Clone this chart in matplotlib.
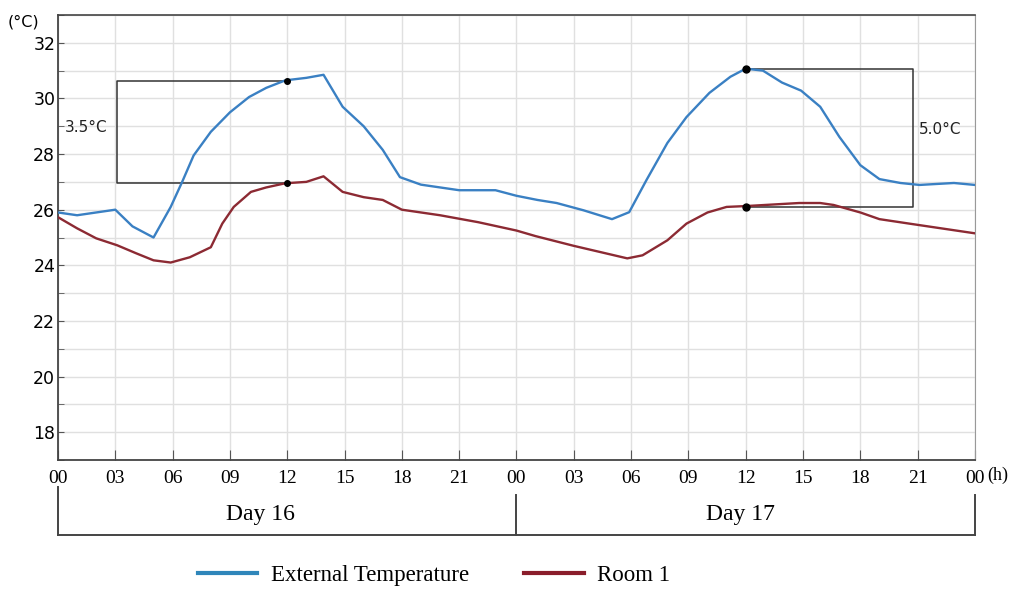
import matplotlib.pyplot as plt
from matplotlib.transforms import blended_transform_factory
from matplotlib.lines import Line2D

# Hours since 00:00 of Day 16, and readings in degC
ext_hours = [0, 1, 2, 3, 3.9, 5, 5.9, 6.5, 7.1, 8, 9, 10, 10.9, 11.9, 13, 13.9, 14.9,
             16, 17, 17.9, 19, 21, 22.9, 24, 25.1, 26.1, 27.5, 29, 29.9, 30.8, 31.9,
             32.9, 34.1, 35.2, 36, 36.9, 37.9, 38.9, 39.9, 40.9, 42, 43, 44.1, 45.1,
             46.9, 48]
ext_temp = [25.9, 25.8, 25.9, 26.0, 25.4, 25.0, 26.1, 27.0, 27.95, 28.8, 29.5, 30.05,
            30.38, 30.65, 30.74, 30.85, 29.7, 29.0, 28.15, 27.17, 26.9, 26.7, 26.7,
            26.5, 26.35, 26.24, 25.98, 25.66, 25.91, 27.06, 28.4, 29.33, 30.2, 30.78,
            31.07, 31.0, 30.57, 30.28, 29.7, 28.62, 27.6, 27.1, 26.96, 26.89, 26.96,
            26.89]

room_hours = [0, 1, 2, 3.1, 4.1, 5, 5.9, 6.9, 8, 8.6, 9.2, 10.1, 10.9, 11.9, 13, 13.9,
              14.9, 16, 17, 18, 20, 22, 24, 25, 27, 29.8, 30.6, 31.9, 32.9, 34, 35,
              36, 38.8, 39.9, 40.6, 42, 43, 44.75, 48]
room_temp = [25.73, 25.33, 24.97, 24.72, 24.43, 24.18, 24.1, 24.29, 24.65, 25.5, 26.1,
             26.64, 26.8, 26.95, 27.0, 27.2, 26.64, 26.45, 26.35, 26.0, 25.8, 25.55,
             25.25, 25.05, 24.7, 24.25, 24.36, 24.9, 25.5, 25.9, 26.1, 26.13, 26.24,
             26.24, 26.17, 25.9, 25.66, 25.48, 25.15]

tick_hours = list(range(0, 49, 3))
tick_labels = ['00', '03', '06', '09', '12', '15', '18', '21'] * 2 + ['00']
y_ticks = [18, 20, 22, 24, 26, 28, 30, 32]

# difference boxes: (left hour, right hour, top temp, bottom temp, label)
box1 = (3.1, 12, 30.63, 26.96, '3.5°C')
box2 = (36, 44.75, 31.07, 26.1, '5.0°C')

blue = '#3a80c3'
red = '#8c2a33'
serif = 'Liberation Serif'

fig = plt.figure(figsize=(10.14, 5.90), dpi=100)
ax = fig.add_axes([0.0572, 0.2203, 0.9043, 0.7543])

ax.plot(ext_hours, ext_temp, color=blue, lw=1.7, zorder=3)
ax.plot(room_hours, room_temp, color=red, lw=1.7, zorder=3)

# box 1: open on the right, vertical on the left
x0, x1, top, bot, lab = box1
ax.plot([x1, x0, x0, x1], [top, top, bot, bot], color='#333333', lw=1.1, zorder=2)
ax.plot([x1, x1], [top, bot], 'o', color='black', ms=4, zorder=4)
ax.text(0.35, 28.95, lab, family='DejaVu Sans', fontsize=11, color='#222222',
        ha='left', va='center')

# box 2: open on the left, vertical on the right
x0, x1, top, bot, lab = box2
ax.plot([x0, x1, x1, x0], [top, top, bot, bot], color='#333333', lw=1.1, zorder=2)
ax.plot([x0, x0], [top, bot], 'o', color='black', ms=5, zorder=4)
ax.text(x1 + 0.3, 28.9, lab, family='DejaVu Sans', fontsize=11, color='#222222',
        ha='left', va='center')

ax.set_xlim(0, 48)
ax.set_ylim(17, 33)
ax.set_xticks(tick_hours)
ax.set_xticklabels(tick_labels, family=serif, fontsize=14)
ax.set_yticks(y_ticks)
ax.set_yticklabels([str(v) for v in y_ticks], family='DejaVu Sans', fontsize=12.5)
ax.set_yticks(range(17, 34), minor=True)
ax.tick_params(axis='x', direction='in', length=7, pad=7, color='#555555')
ax.tick_params(axis='y', which='both', direction='in', length=4, pad=2, color='#555555')
ax.grid(True, which='both', color='#e0e0e0', lw=1)
ax.set_axisbelow(True)
for side in ['left', 'bottom']:
    ax.spines[side].set_color('#444444')
    ax.spines[side].set_linewidth(1.3)
ax.spines['top'].set_color('#444444')
ax.spines['top'].set_linewidth(1.2)
ax.spines['right'].set_color('#999999')

ax.text(-0.055, 0.985, '(°C)', transform=ax.transAxes, family='DejaVu Sans',
        fontsize=11.5, ha='left', va='center')
ax.text(48.65, 16.45, '(h)', family=serif, fontsize=13, ha='left', va='center',
        clip_on=False)

# day brackets under the axis
tr = blended_transform_factory(ax.transData, ax.transAxes)
bk = dict(color='#444444', lw=1.4, transform=tr, clip_on=False)
ax.add_line(Line2D([0, 48], [-0.1685, -0.1685], **bk))
ax.add_line(Line2D([0, 0], [-0.061, -0.1685], **bk))
ax.add_line(Line2D([24, 24], [-0.079, -0.1685], **bk))
ax.add_line(Line2D([48, 48], [-0.079, -0.1685], **bk))
ax.text(10.6, -0.122, 'Day 16', transform=tr, family=serif, fontsize=17,
        ha='center', va='center')
ax.text(35.7, -0.122, 'Day 17', transform=tr, family=serif, fontsize=17,
        ha='center', va='center')

handles = [Line2D([], [], color='#2f86ba', lw=3), Line2D([], [], color='#8a1d2b', lw=3)]
fig.legend(handles, ['External Temperature', 'Room 1'], loc='center',
           bbox_to_anchor=(0.428, 0.024), ncol=2, frameon=False,
           prop={'family': serif, 'size': 16.5}, handlelength=2.6,
           columnspacing=2.4, handletextpad=0.6)

fig.savefig('out.png', dpi=100)
